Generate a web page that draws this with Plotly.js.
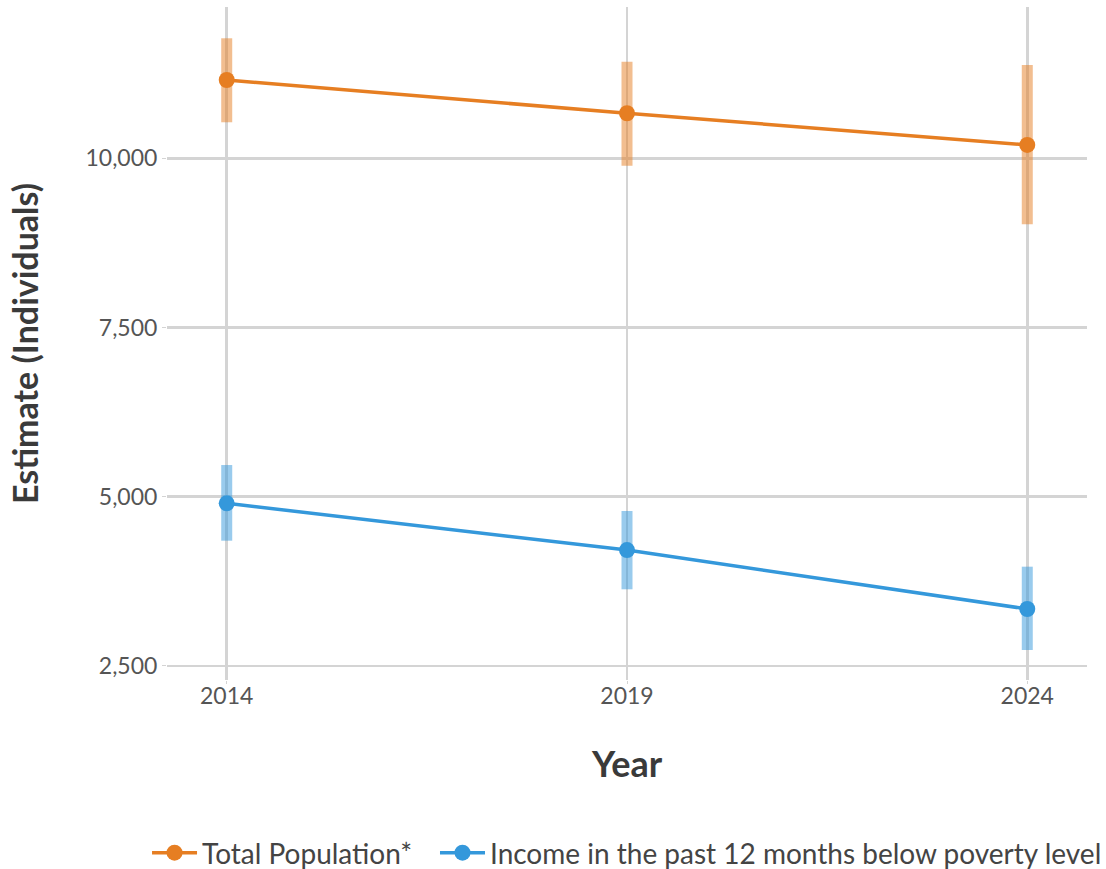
<!DOCTYPE html>
<html>
<head>
<meta charset="utf-8">
<script src="https://cdn.plot.ly/plotly-3.0.1.min.js"></script>
<style>
  html, body { margin: 0; padding: 0; background: #ffffff; }
  #chart { width: 1106px; height: 869px; }
</style>
</head>
<body>
<div id="chart"></div>
<script>
// ---- data ----
var years = [2014, 2019, 2024];
var tickYears = ["2014", "2019", "2024"];

var totalName = "Total Population*";
var totalEst  = [11157, 10665, 10197];
var totalLow  = [10532, 9891, 9025];
var totalHigh = [11773, 11427, 11378];

var povName = "Income in the past 12 months below poverty level";
var povEst  = [4902, 4212, 3341];
var povLow  = [4350, 3632, 2735];
var povHigh = [5468, 4789, 3966];

var yTicks = [2500, 5000, 7500, 10000];

// ---- helpers ----
function diff(a, b) { return a.map(function (v, i) { return v - b[i]; }); }

var FONT = "Century Gothic, Lato, 'Open Sans', sans-serif";
var orange = "#E67E22";
var blue = "#3498DB";

function series(name, est, low, high, color, fade, legendId) {
  return {
    type: "scatter",
    mode: "lines+markers",
    name: name,
    legend: legendId,
    x: years,
    y: est,
    line: { color: color, width: 3.5 },
    marker: { color: color, size: 16 },
    error_y: {
      type: "data",
      symmetric: false,
      array: diff(high, est),
      arrayminus: diff(est, low),
      color: fade,
      thickness: 11,
      width: 0
    },
    hoverinfo: "x+y+name"
  };
}

var data = [
  series(totalName, totalEst, totalLow, totalHigh, orange, "rgba(230,126,34,0.5)", "legend"),
  series(povName, povEst, povLow, povHigh, blue, "rgba(52,152,219,0.5)", "legend2")
];

var legendFont = { family: FONT, size: 28, color: "#444444" };

var layout = {
  width: 1106,
  height: 869,
  paper_bgcolor: "#ffffff",
  plot_bgcolor: "#ffffff",
  font: { family: FONT, color: "#555555", size: 22 },
  margin: { l: 167, r: 19, t: 7, b: 189, pad: 0, autoexpand: false },
  showlegend: true,
  legend: {
    orientation: "h",
    x: -0.0217,
    xanchor: "left",
    y: -0.257,
    yanchor: "middle",
    itemwidth: 45,
    font: legendFont,
    bgcolor: "rgba(0,0,0,0)"
  },
  legend2: {
    orientation: "h",
    x: 0.2913,
    xanchor: "left",
    y: -0.257,
    yanchor: "middle",
    itemwidth: 45,
    font: legendFont,
    bgcolor: "rgba(0,0,0,0)"
  },
  xaxis: {
    range: [2013.254, 2024.746],
    tickvals: years,
    ticktext: tickYears,
    showgrid: true,
    gridcolor: "#d4d4d4",
    gridwidth: 2.5,
    zeroline: false,
    showline: false,
    ticks: "outside",
    ticklen: 3,
    tickcolor: "#d4d4d4",
    ticklabelstandoff: -8,
    tickfont: { family: FONT, size: 23, color: "#555555" },
    title: { text: "Year", font: { family: FONT, size: 36, color: "#3a3a3a", weight: "bold" }, standoff: 44 }
  },
  yaxis: {
    range: [2292, 12235],
    tickvals: yTicks,
    tickformat: ",d",
    showgrid: true,
    gridcolor: "#d4d4d4",
    gridwidth: 2.5,
    zeroline: false,
    showline: false,
    ticks: "outside",
    ticklen: 4,
    tickcolor: "#d4d4d4",
    tickfont: { family: FONT, size: 23, color: "#555555" },
    title: { text: "Estimate (Individuals)", font: { family: FONT, size: 34, color: "#3a3a3a", weight: "bold" }, standoff: 36 }
  }
};

Plotly.newPlot("chart", data, layout, { displayModeBar: false, staticPlot: true });
</script>
</body>
</html>
